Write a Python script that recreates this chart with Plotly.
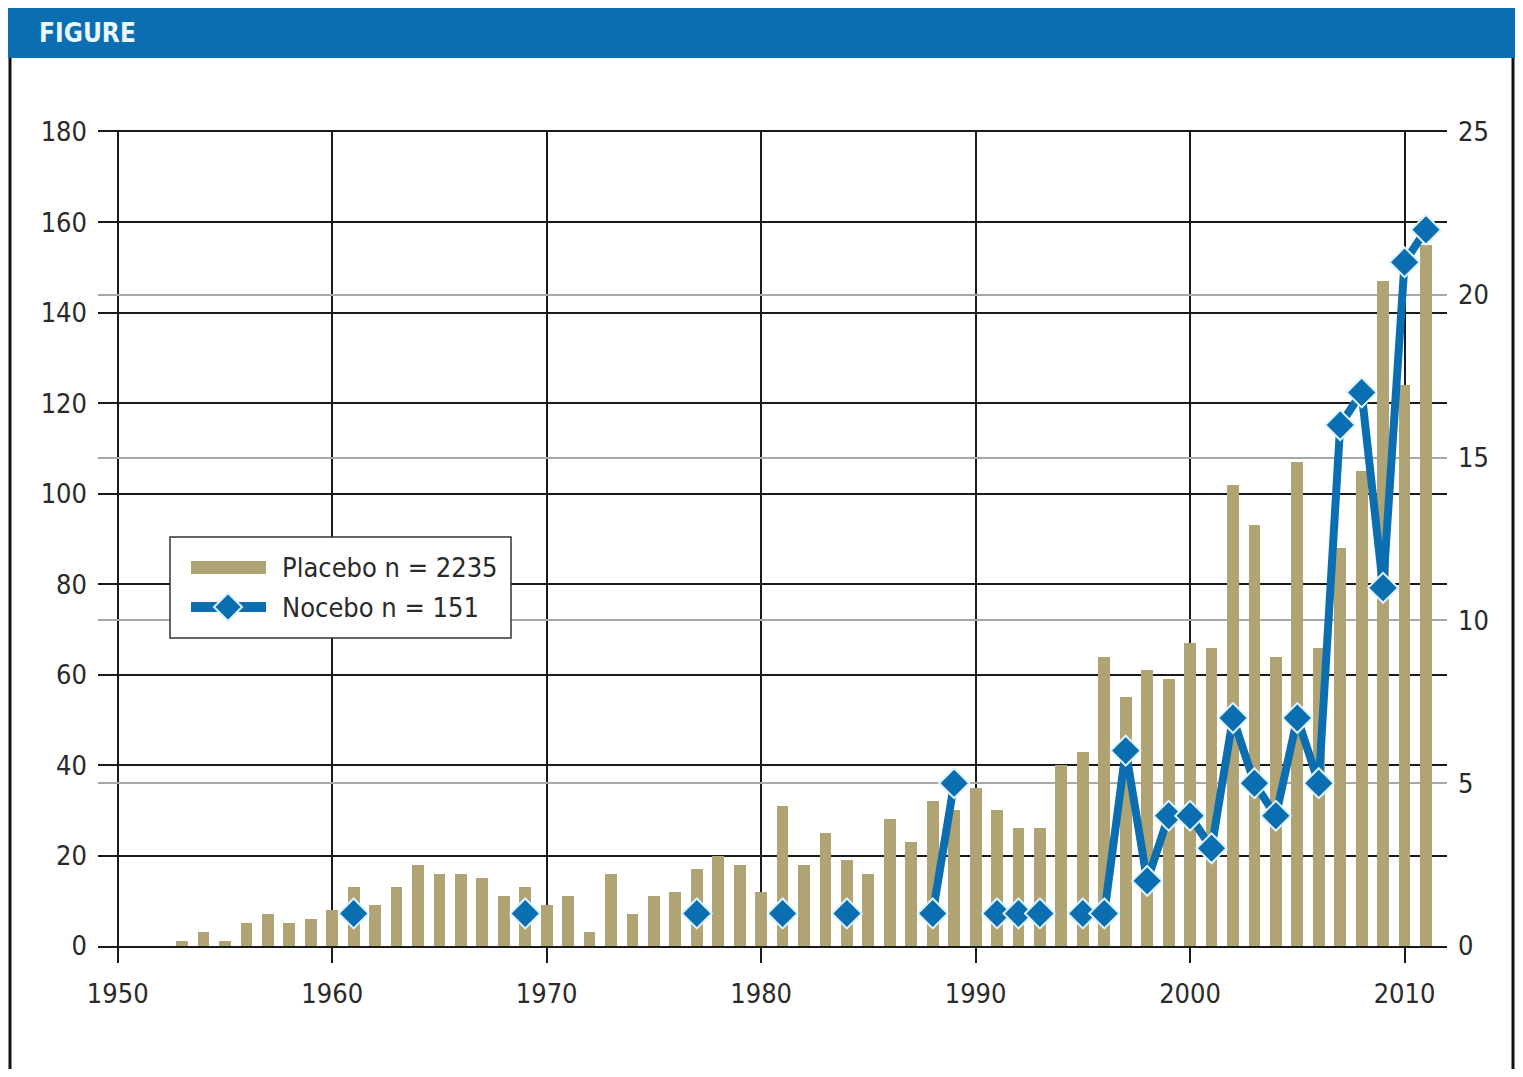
import plotly.graph_objects as go

# ---------------- data ----------------
years = list(range(1953, 2012))
placebo = [1, 3, 1, 5, 7, 5, 6, 8,                  # 1953-1960
           13, 9, 13, 18, 16, 16, 15, 11, 13, 9,     # 1961-1970
           11, 3, 16, 7, 11, 12, 17, 20, 18, 12,     # 1971-1980
           31, 18, 25, 19, 16, 28, 23, 32, 30, 35,   # 1981-1990
           30, 26, 26, 40, 43, 64, 55, 61, 59, 67,   # 1991-2000
           66, 102, 93, 64, 107, 66, 88, 105, 147, 124, 155]  # 2001-2011
nocebo_years = [1961, 1969, 1977, 1981, 1984, 1988, 1989, 1991, 1992, 1993,
                1995, 1996, 1997, 1998, 1999, 2000, 2001, 2002, 2003, 2004,
                2005, 2006, 2007, 2008, 2009, 2010, 2011]
nocebo_counts = [1, 1, 1, 1, 1, 1, 5, 1, 1, 1,
                 1, 1, 6, 2, 4, 4, 3, 7, 5, 4,
                 7, 5, 16, 17, 11, 21, 22]
placebo_label = "Placebo n = 2235"
nocebo_label = "Nocebo n = 151"
header_text = "FIGURE"
x_ticks = [1950, 1960, 1970, 1980, 1990, 2000, 2010]
left_ticks = [0, 20, 40, 60, 80, 100, 120, 140, 160, 180]
right_ticks = [0, 5, 10, 15, 20, 25]

# nocebo series aligned to all years (gaps where no studies)
noc_map = dict(zip(nocebo_years, nocebo_counts))
nocebo = [noc_map.get(y) for y in years]

# ---------------- styling ----------------
OFF = 8                      # page body margin
W, H = 1523 - 2 * OFF, 1077 - 2 * OFF
ML, MT = 90, 124
PW, PH = 1349, 814
MR, MB = W - ML - PW, H - MT - PH
KHAKI = "#B1A474"
BLUE = "#0B6EB1"
FONT = "DejaVu Sans Condensed, Liberation Sans Narrow, Arial Narrow, Liberation Sans, sans-serif"
TXT = "#2a2a2a"
FS = 27


def px(x):
    return (x - OFF - ML) / PW


def py(y):
    return (H - MB - (y - OFF)) / PH


fig = go.Figure()
fig.add_trace(go.Bar(x=years, y=placebo, marker=dict(color=KHAKI, line=dict(width=0)),
                     width=0.55, name=placebo_label, showlegend=False, yaxis="y"))
fig.add_trace(go.Scatter(x=years, y=nocebo, mode="lines+markers", connectgaps=False,
                         line=dict(color=BLUE, width=8),
                         marker=dict(symbol="diamond", size=23, color=BLUE,
                                     line=dict(color="#DDF3FF", width=2)),
                         name=nocebo_label, showlegend=False, yaxis="y2"))

shapes = []
# header band
shapes.append(dict(type="rect", xref="paper", yref="paper", x0=px(8), x1=px(1515),
                   y0=py(58), y1=py(8), fillcolor=BLUE, line=dict(width=0), layer="above"))
# frame sides
for xx in (10, 1513):
    shapes.append(dict(type="line", xref="paper", yref="paper", x0=px(xx), x1=px(xx),
                       y0=py(58), y1=py(1072), line=dict(color="#111111", width=3)))
# legend box
shapes.append(dict(type="rect", xref="paper", yref="paper", x0=px(170), x1=px(511),
                   y0=py(638), y1=py(537), fillcolor="white",
                   line=dict(color="#333333", width=1.5), layer="above"))
shapes.append(dict(type="rect", xref="paper", yref="paper", x0=px(191), x1=px(266),
                   y0=py(574), y1=py(561), fillcolor=KHAKI, line=dict(width=0), layer="above"))
shapes.append(dict(type="line", xref="paper", yref="paper", x0=px(191), x1=px(266),
                   y0=py(607), y1=py(607), line=dict(color=BLUE, width=10), layer="above"))
cx, cy, r = 228, 607, 14
path = "M {},{} L {},{} L {},{} L {},{} Z".format(
    px(cx), py(cy - r), px(cx + r), py(cy), px(cx), py(cy + r), px(cx - r), py(cy))
shapes.append(dict(type="path", xref="paper", yref="paper", path=path, fillcolor=BLUE,
                   line=dict(color="#DDF3FF", width=2), layer="above"))

annotations = [
    dict(text="<b>" + header_text + "</b>", xref="paper", yref="paper", x=px(37), y=py(33),
         xanchor="left", yanchor="middle", showarrow=False,
         font=dict(family=FONT, size=26, color="#EAF8FF")),
    dict(text=placebo_label, xref="paper", yref="paper", x=px(280), y=py(567),
         xanchor="left", yanchor="middle", showarrow=False,
         font=dict(family=FONT, size=FS, color=TXT)),
    dict(text=nocebo_label, xref="paper", yref="paper", x=px(280), y=py(607),
         xanchor="left", yanchor="middle", showarrow=False,
         font=dict(family=FONT, size=FS, color=TXT)),
]

fig.update_layout(
    width=W, height=H,
    margin=dict(l=ML, r=MR, t=MT, b=MB, pad=0),
    paper_bgcolor="white", plot_bgcolor="white",
    showlegend=False,
    font=dict(family=FONT, size=FS, color=TXT),
    shapes=shapes, annotations=annotations,
    xaxis=dict(range=[1949.08, 2011.98], tickvals=x_ticks, showgrid=True,
               gridcolor="#1a1a1a", gridwidth=1.5, ticks="outside", ticklen=15,
               tickwidth=1.5, tickcolor="#1a1a1a", showline=True, linecolor="#1a1a1a",
               linewidth=2, mirror=True, zeroline=False, ticklabelstandoff=8,
               tickfont=dict(family=FONT, size=FS, color=TXT)),
    yaxis=dict(range=[0, 180], tickvals=left_ticks, showgrid=True, gridcolor="#1a1a1a",
               gridwidth=2, zeroline=False, showline=False, ticks="",
               ticklabelstandoff=10, tickfont=dict(family=FONT, size=FS, color=TXT)),
    yaxis2=dict(range=[0, 25], tickvals=right_ticks, overlaying="y", side="right",
                showgrid=True, gridcolor="#a8a8a8", gridwidth=1.5, zeroline=False,
                showline=False, ticks="", ticklabelstandoff=10,
                tickfont=dict(family=FONT, size=FS, color=TXT)),
    bargap=0,
)

fig.write_html("out.html")
